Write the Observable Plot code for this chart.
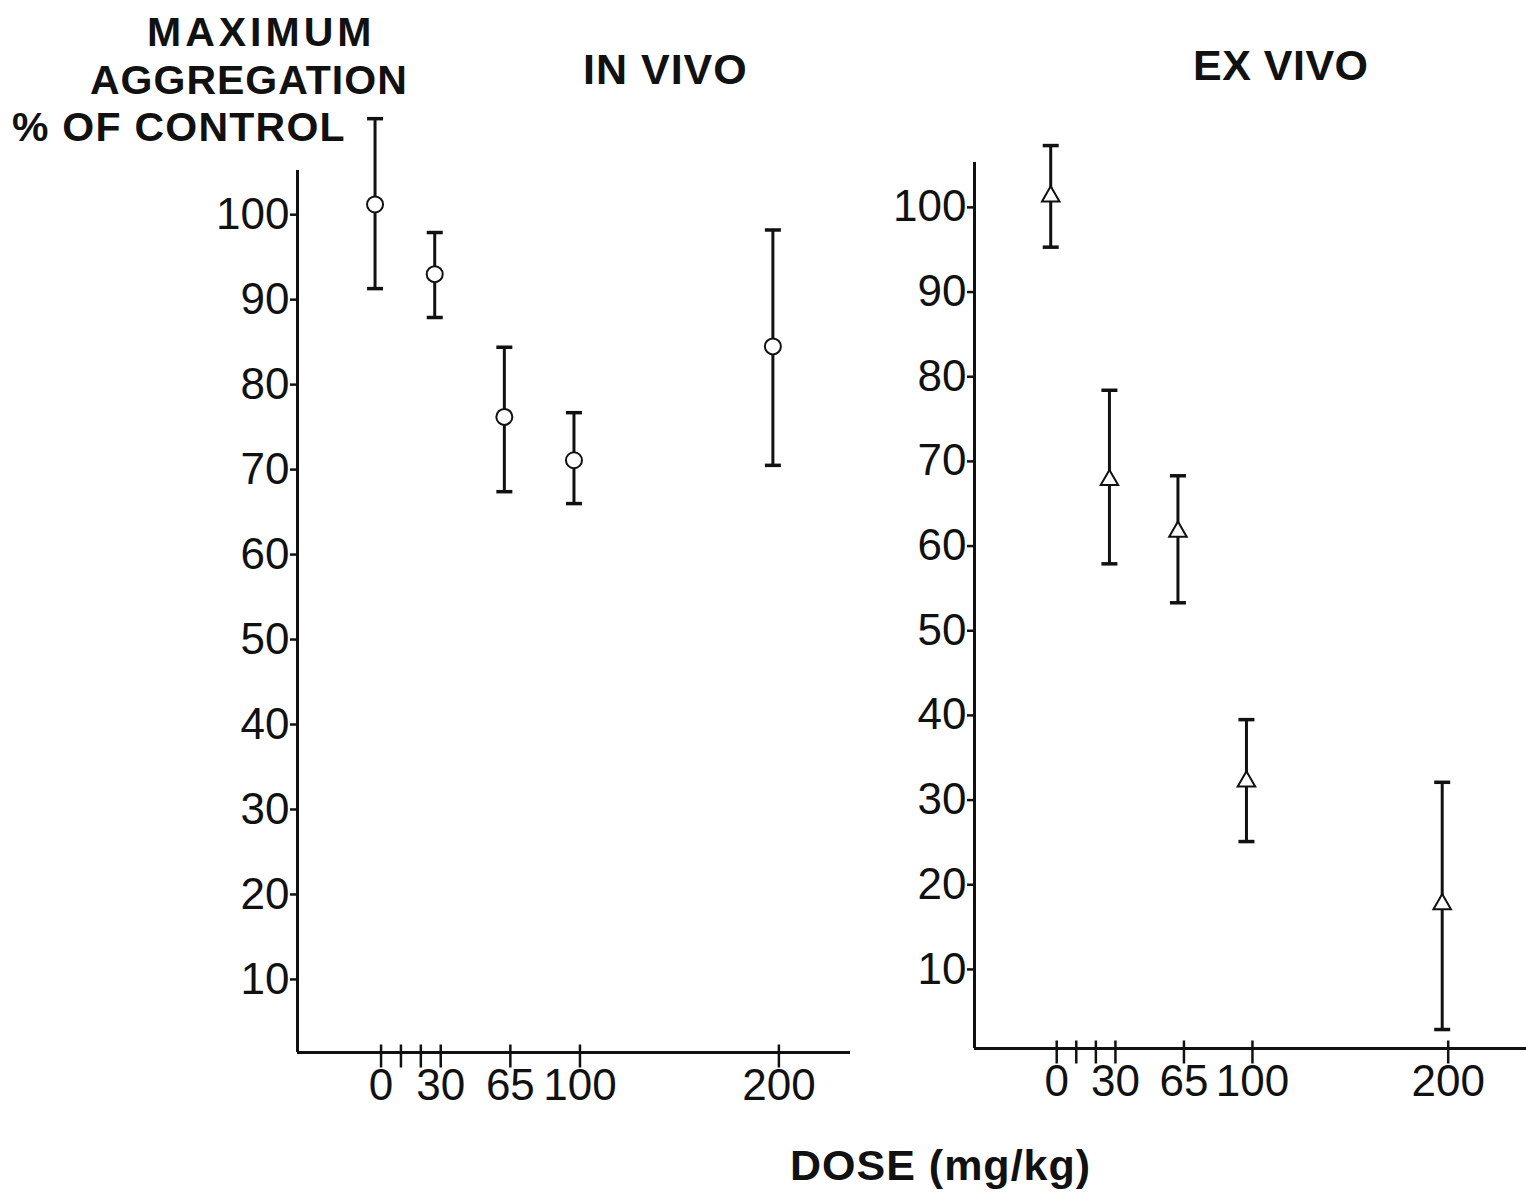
<!DOCTYPE html>
<html><head><meta charset="utf-8">
<script src="https://cdn.jsdelivr.net/npm/d3@7"></script>
<script src="https://cdn.jsdelivr.net/npm/@observablehq/plot@0.6"></script>
<style>
body{margin:0;background:#fff;width:1526px;height:1192px;position:relative;overflow:hidden;font-family:"Liberation Sans",Arial,Helvetica,sans-serif;}
.t{position:absolute;white-space:nowrap;color:#111;font-weight:bold;line-height:0.8;font-size:43px;}
.s{font-size:41px;}
.panel{position:absolute;}
.panel svg{overflow:visible;}
</style></head><body>
<div class="t s" style="left:147px;top:16px;letter-spacing:4px;">MAXIMUM</div>
<div class="t s" style="left:90px;top:64px;letter-spacing:1px;">AGGREGATION</div>
<div class="t s" style="left:12px;top:111px;letter-spacing:1.25px;">% OF CONTROL</div>
<div class="t" style="left:583px;top:52px;letter-spacing:1px;">IN VIVO</div>
<div class="t" style="left:1193px;top:48px;letter-spacing:0.5px;">EX VIVO</div>
<div class="t" style="left:790px;top:1148px;letter-spacing:1px;">DOSE (mg/kg)</div>
<div id="left" class="panel"></div>
<div id="right" class="panel"></div>
<script>
// ---- data ----
const doses = [0, 30, 65, 100, 200];
const inVivoMean = [101.2, 93.0, 76.2, 71.1, 84.5];
const inVivoLow  = [91.3, 87.9, 67.4, 66.0, 70.5];
const inVivoHigh = [111.3, 97.9, 84.4, 76.7, 98.2];
const exVivoMean = [101.3, 67.8, 61.7, 32.2, 17.7];
const exVivoLow  = [95.3, 57.9, 53.3, 25.1, 2.9];
const exVivoHigh = [107.3, 78.4, 68.3, 39.5, 32.1];
const xTickValues = [0, 10, 20, 30, 65, 100, 200];
const xTickLabels = ["0", "", "", "30", "65", "100", "200"];
const yTickValues = [10, 20, 30, 40, 50, 60, 70, 80, 90, 100];

const capSymbol = {draw(ctx){ ctx.moveTo(-8, 0); ctx.lineTo(8, 0); }};
const crossTick = {draw(ctx){ ctx.moveTo(0, -8); ctx.lineTo(0, 15); }};

function panel(el, cfg){
  const rows = doses.map((d, i) => ({dose: d, mean: cfg.mean[i], lo: cfg.lo[i], hi: cfg.hi[i]}));
  const fmt = new Map(xTickValues.map((v, i) => [v, xTickLabels[i]]));
  const chart = Plot.plot({
    width: cfg.width, height: cfg.height,
    marginLeft: 100, marginRight: cfg.marginRight, marginTop: 80, marginBottom: 70,
    style: {fontFamily: '"Liberation Sans", Arial, Helvetica, sans-serif', fontSize: "44px", color: "#111", background: "transparent"},
    x: {domain: cfg.xDomain},
    y: {domain: cfg.yDomain},
    marks: [
      Plot.ruleX([cfg.xDomain[0]], {stroke: "#111", strokeWidth: 3}),
      Plot.ruleY([cfg.yDomain[0]], {stroke: "#111", strokeWidth: 3}),
      Plot.axisY(yTickValues, {tickSize: 7, tickPadding: 1, strokeWidth: 2.5, fontSize: 44, label: null, tickFormat: d => String(d)}),
      Plot.axisX(xTickValues, {tickSize: 0, tickPadding: 16, fontSize: 44, label: null, tickFormat: d => fmt.get(d)}),
      Plot.dot(xTickValues, {x: d => d, frameAnchor: "bottom", symbol: crossTick, fill: "none", stroke: "#111", strokeWidth: 2.5}),
      Plot.ruleX(rows, {x: "dose", y1: "lo", y2: "hi", stroke: "#111", strokeWidth: 3, dx: -6}),
      Plot.dot(rows, {x: "dose", y: "hi", symbol: capSymbol, fill: "none", stroke: "#111", strokeWidth: 3.5, dx: -6}),
      Plot.dot(rows, {x: "dose", y: "lo", symbol: capSymbol, fill: "none", stroke: "#111", strokeWidth: 3.5, dx: -6}),
      Plot.dot(rows, {x: "dose", y: "mean", symbol: cfg.symbol, r: cfg.r, fill: "white", stroke: "#111", strokeWidth: 2, dx: -6})
    ]
  });
  el.appendChild(chart);
}

const L = document.getElementById("left");
L.style.left = "197px"; L.style.top = "90px";
panel(L, {mean: inVivoMean, lo: inVivoLow, hi: inVivoHigh, symbol: "circle", r: 8,
  width: 663, height: 1032, marginRight: 10, xDomain: [-42, 236], yDomain: [1.4, 105.2]});

const R = document.getElementById("right");
R.style.left = "874px"; R.style.top = "82px";
panel(R, {mean: exVivoMean, lo: exVivoLow, hi: exVivoHigh, symbol: "triangle", r: 6.5,
  width: 652, height: 1036, marginRight: 0, xDomain: [-42, 240], yDomain: [0.66, 105.3]});
</script>
</body></html>
